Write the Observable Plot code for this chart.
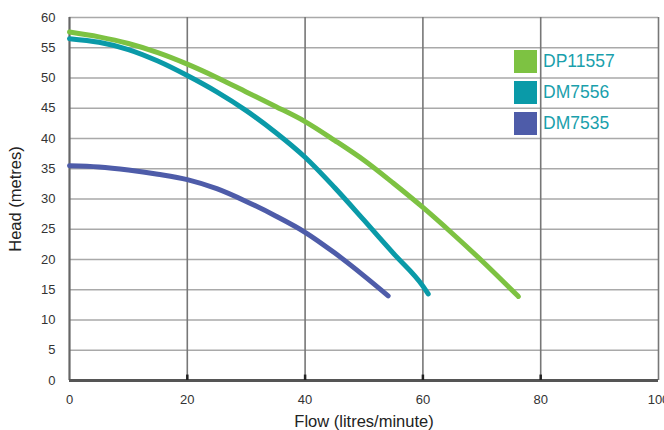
<!DOCTYPE html>
<html>
<head>
<meta charset="utf-8">
<script src="https://cdn.jsdelivr.net/npm/d3@7"></script>
<script src="https://cdn.jsdelivr.net/npm/@observablehq/plot@0.6"></script>
<style>
  html, body { margin: 0; padding: 0; background: #fff; }
  #wrap { position: relative; width: 664px; height: 430px; font-family: "Liberation Sans", Arial, sans-serif; }
  #legend { position: absolute; left: 514px; top: 50px; }
  .li { display: flex; align-items: center; height: 23px; margin-bottom: 8px; }
  .sw { width: 23px; height: 23px; margin-right: 6px; }
  .lt { font-size: 17.5px; color: #1a9fac; }
</style>
</head>
<body>
<div id="wrap"></div>
<script>
const seriesNames = ["DP11557", "DM7556", "DM7535"];
const seriesColors = ["#7dc242", "#0a9aa8", "#4e5ca9"];

const flowDP11557 = [0, 5, 10, 15, 20, 25, 30, 35, 40, 45, 50, 55, 60, 65, 70, 76.2];
const headDP11557 = [57.6, 56.8, 55.7, 54.2, 52.3, 50.1, 47.7, 45.3, 42.8, 39.7, 36.4, 32.6, 28.6, 24.3, 19.8, 13.9];

const flowDM7556 = [0, 5, 10, 15, 20, 25, 30, 35, 40, 45, 50, 55, 60, 60.9];
const headDM7556 = [56.5, 55.9, 54.7, 52.8, 50.4, 47.7, 44.6, 41.0, 36.9, 31.9, 26.5, 21.0, 15.6, 14.3];

const flowDM7535 = [0, 5, 10, 15, 20, 25, 30, 35, 40, 45, 50, 54.1];
const headDM7535 = [35.5, 35.3, 34.8, 34.1, 33.2, 31.7, 29.6, 27.2, 24.5, 21.1, 17.3, 14.0];

const xTicks = [0, 20, 40, 60, 80, 100];
const yTicks = [0, 5, 10, 15, 20, 25, 30, 35, 40, 45, 50, 55, 60];
const xGrid = [20, 40, 60, 80, 100];
const yGrid = [5, 10, 15, 20, 25, 30, 35, 40, 45, 50, 55, 60];
const xInnerTicks = [20, 40, 60, 80];

const flows = [flowDP11557, flowDM7556, flowDM7535];
const heads = [headDP11557, headDM7556, headDM7535];
const data = [];
seriesNames.forEach((name, i) => {
  flows[i].forEach((f, j) => data.push({series: name, flow: f, head: heads[i][j]}));
});

const chart = Plot.plot({
  width: 664,
  height: 430,
  marginLeft: 69,
  marginRight: 6,
  marginTop: 17,
  marginBottom: 50,
  style: {fontFamily: "'Liberation Sans', Arial, sans-serif", fontSize: "13px", color: "#333", background: "#fff"},
  x: {domain: [0, 100], ticks: xTicks, tickSize: 0, tickPadding: 14, label: "Flow (litres/minute)", labelAnchor: "center", labelArrow: "none", labelOffset: 46},
  y: {domain: [0, 60], ticks: yTicks, tickSize: 0, tickPadding: 14, label: "Head (metres)", labelAnchor: "center", labelArrow: "none", labelOffset: 60},
  color: {domain: seriesNames, range: seriesColors},
  marks: [
    Plot.ruleY(yGrid, {stroke: "#a9a9a9", strokeWidth: 1.6}),
    Plot.ruleX(xGrid, {stroke: "#777", strokeWidth: 1.6}),
    Plot.ruleX([0], {stroke: "#666", strokeWidth: 2.2}),
    Plot.ruleY([0], {stroke: "#555", strokeWidth: 3}),
    Plot.ruleX(xInnerTicks, {y1: 0, y2: 0.9, stroke: "#222", strokeWidth: 2.5}),
    Plot.line(data, {x: "flow", y: "head", z: "series", stroke: "series", strokeWidth: 5, curve: "monotone-x", strokeLinecap: "round", strokeLinejoin: "round"})
  ]
});
chart.querySelectorAll("[aria-label='x-axis label'] text, [aria-label='y-axis label'] text").forEach(t => {
  t.style.fontSize = "16.5px"; t.style.fill = "#222";
});
document.getElementById("wrap").appendChild(chart);

const legend = document.createElement("div");
legend.id = "legend";
seriesNames.forEach((n, i) => {
  const row = document.createElement("div");
  row.className = "li";
  row.innerHTML = `<div class="sw" style="background:${seriesColors[i]}"></div><span class="lt">${n}</span>`;
  legend.appendChild(row);
});
document.getElementById("wrap").appendChild(legend);
</script>
</body>
</html>
